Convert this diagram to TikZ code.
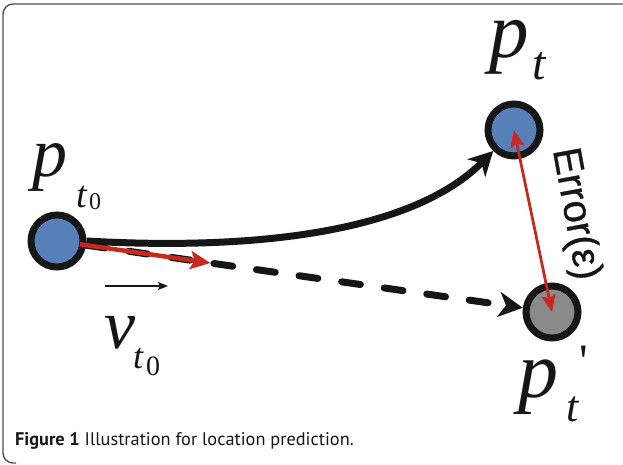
\documentclass[tikz,border=0pt]{standalone}
\usepackage{fontspec}
\setmainfont{Liberation Serif}
\newfontfamily\sansf[FakeBold=0.8]{Liberation Sans}
\newfontfamily\capf{PT Sans}
\newfontfamily\primef[Ligatures=TeXOff]{Liberation Serif}
\usetikzlibrary{arrows.meta,calc}
\definecolor{ptblue}{RGB}{88,128,184}
\definecolor{ptgray}{RGB}{138,138,138}
\definecolor{ringblack}{RGB}{22,22,22}
\definecolor{arrred}{RGB}{200,40,30}
\definecolor{framegray}{RGB}{80,80,80}
\begin{document}
\begin{tikzpicture}[x=1pt,y=-1pt,
  dot/.style={circle, draw=ringblack, line width=7pt, minimum size=52pt, inner sep=0pt},
  bigline/.style={draw=ringblack, line width=7pt},
  bigtip/.style={-{Stealth[length=24pt,width=25pt,inset=7pt]}},
  dashline/.style={bigline, line cap=round, dash pattern=on 19pt off 24pt, dash phase=0pt},
  velarrow/.style={draw=arrred, line width=4.5pt, -{Stealth[length=20pt,width=18pt,inset=4pt]}},
  errarrow/.style={draw=arrred, line width=2.8pt, {Stealth[length=17pt,width=14pt,inset=3pt]}-{Stealth[length=17pt,width=14pt,inset=3pt]}},
  smallarrow/.style={draw=ringblack, line width=1.3pt, -{Stealth[length=10pt,width=8pt,inset=2pt]}},
  lbl/.style={inner sep=0pt, anchor=base west, text=ringblack},
  it/.style={lbl, font=\itshape},
  up/.style={lbl, font=\upshape}
]
\useasboundingbox (0,0) rectangle (623,465);
% frame
\draw[framegray, line width=1.4pt, rounded corners=10pt] (630,4) -- (3,4) -- (3,463) -- (16,463);

% points
\node[dot, fill=ptblue] (p0) at (57,241) {};
\node[dot, fill=ptblue] (pt) at (514,130) {};
\node[dot, fill=ptgray] (pp) at (552,312) {};

% predicted (dashed) path
\draw[dashline, bigtip] (p0) -- (pp);
% actual path
\draw[bigline, bigtip] (p0.east) .. controls (280,252) and (420,225) .. (pt);
% velocity vector
\coordinate (vs) at ($(p0.center)!23pt!(pp.center)$);
\coordinate (v) at ($(p0.center)!155pt!(pp.center)$);
\draw[velarrow] (vs) -- (v);
% error
\draw[errarrow] (pt.center) -- (pp.center);
\node[inner sep=0pt, rotate=-79.7, text=ringblack] (err) at (575,214) {\sansf\fontsize{40}{40}\selectfont Error(ε)};

% small vector arrow
\coordinate (va) at (105,286);
\coordinate (vb) at (168,286);
\draw[smallarrow] (va) -- (vb);

% label p_{t0}
\node[it] (lp0) at (32,176) {\fontsize{70}{70}\selectfont p};
\node[it] (lp0t) at (76,207) {\fontsize{38}{38}\selectfont t};
\node[up] (lp0z) at (89,209) {\fontsize{24}{24}\selectfont 0};
% label p_t
\node[it] (lpt) at (489,58) {\fontsize{79}{79}\selectfont p};
\node[it] (lptt) at (532,80) {\fontsize{48}{48}\selectfont t};
% label p_t'
\node[it] (lpp) at (518,397) {\fontsize{80}{80}\selectfont p};
\node[it] (lppt) at (566,421) {\fontsize{44}{44}\selectfont t};
\node[up] (lppq) at (579,377) {\primef\fontsize{48}{48}\selectfont '};
% label v_{t0}
\node[it] (lv) at (104,348) {\fontsize{70}{70}\selectfont v};
\node[it] (lvt) at (133,368) {\fontsize{36}{36}\selectfont t};
\node[up] (lvz) at (146,375) {\fontsize{28}{28}\selectfont 0};

% caption
\node[lbl] (cap) at (15,445) {\capf\fontsize{18.3}{18.3}\selectfont\textbf{Figure 1} Illustration for location prediction.};
\end{tikzpicture}
\end{document}
